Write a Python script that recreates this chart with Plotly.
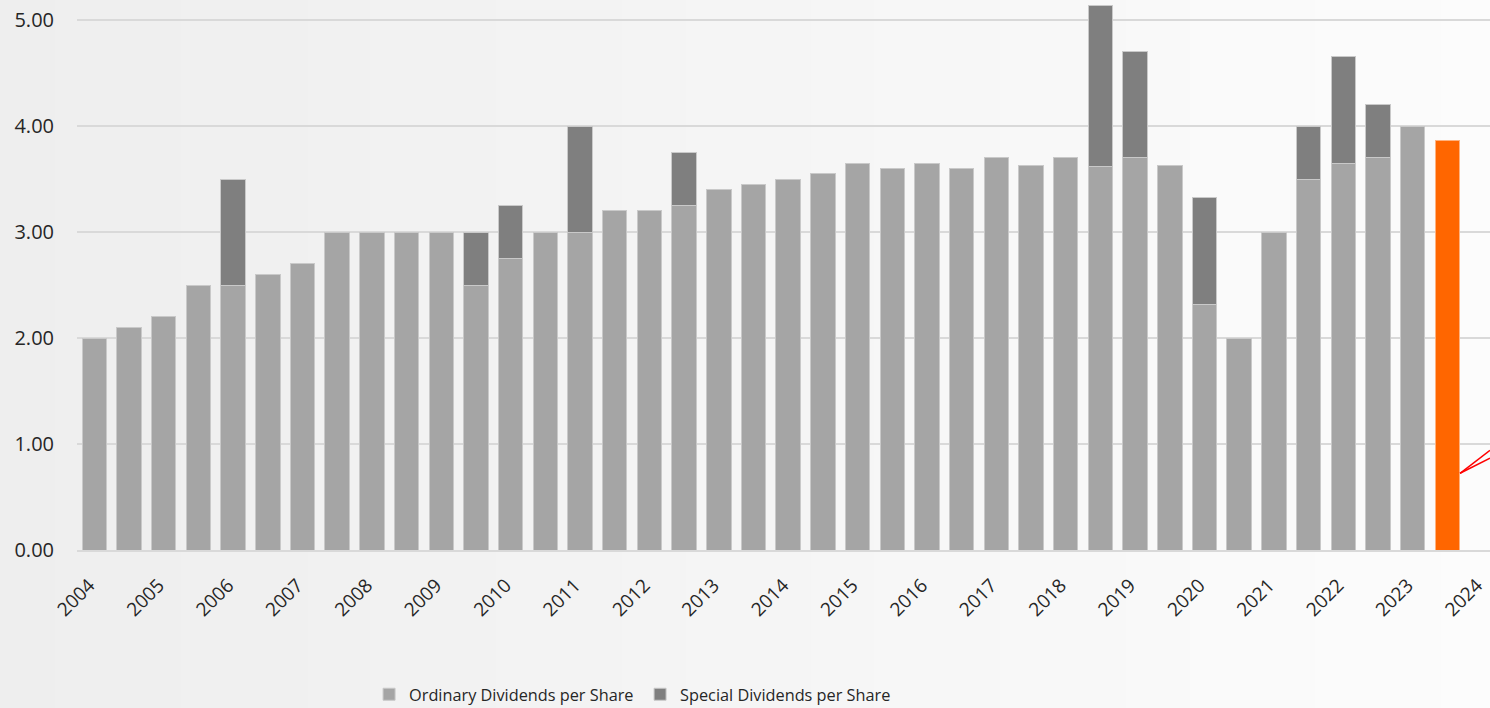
import plotly.graph_objects as go

# ---- data ----
years = ["2004", "2005", "2006", "2007", "2008", "2009", "2010", "2011", "2012", "2013",
         "2014", "2015", "2016", "2017", "2018", "2019", "2020", "2021", "2022", "2023", "2024"]

periods = [f"{y} H{h}" for y in years for h in (1, 2)][:41]

ordinary = [2.00, 2.10, 2.20, 2.50, 2.50, 2.60, 2.70, 3.00, 3.00, 3.00,
            3.00, 2.50, 2.75, 3.00, 3.00, 3.20, 3.20, 3.25, 3.40, 3.45,
            3.50, 3.55, 3.65, 3.60, 3.65, 3.60, 3.70, 3.63, 3.70, 3.62,
            3.70, 3.63, 2.32, 2.00, 3.00, 3.50, 3.65, 3.70, 4.00, 3.86]

special = [0, 0, 0, 0, 1.00, 0, 0, 0, 0, 0,
           0, 0.50, 0.50, 0, 1.00, 0, 0, 0.50, 0, 0,
           0, 0, 0, 0, 0, 0, 0, 0, 0, 1.52,
           1.00, 0, 1.01, 0, 0, 0.50, 1.01, 0.50, 0, 0]

forecast_flag = [False] * 39 + [True]

C_ORD = "#a5a5a5"
C_SPE = "#7f7f7f"
C_FC = "#ff6600"

ord_colors = [C_FC if f else C_ORD for f in forecast_flag]
ord_lines = ["#ffb27f" if f else "#c9c9c9" for f in forecast_flag]

fig = go.Figure()
fig.add_trace(go.Bar(
    x=periods[:40], y=ordinary, name="Ordinary Dividends per Share",
    marker=dict(color=ord_colors, line=dict(color=ord_lines, width=1)),
))
fig.add_trace(go.Bar(
    x=periods[:40], y=[s if s > 0 else None for s in special], name="Special Dividends per Share",
    marker=dict(color=C_SPE, line=dict(color="#c9c9c9", width=1)),
))

# background gradient (light grey on the left, near white on the right)
n = 24
for i in range(n):
    t = i / (n - 1)
    v = int(round(238 + (252 - 238) * t))
    fig.add_shape(type="rect", xref="paper", yref="paper",
                  x0=-0.06 + i * (1.07 / n), x1=-0.06 + (i + 1) * (1.07 / n) + 0.002,
                  y0=-0.3, y1=1.0, fillcolor=f"rgb({v},{v},{v})",
                  line=dict(width=0), layer="below")

# red pointer lines next to the forecast bar
for yend in (0.94, 0.866):
    fig.add_shape(type="line", xref="paper", yref="y",
                  x0=0.9788, y0=0.724, x1=1.0, y1=yend,
                  line=dict(color="#ff0000", width=1.5))

FONT = "Open Sans"

fig.update_layout(
    width=1490, height=708,
    margin=dict(l=77, r=0, t=0, b=158, autoexpand=False),
    barmode="stack", bargap=0.294,
    paper_bgcolor="#f2f2f2", plot_bgcolor="rgba(0,0,0,0)",
    font=dict(family=FONT, size=20, color="#262626"),
    showlegend=True,
    legend=dict(orientation="h", x=0.2067, xanchor="left",
                y=-0.263, yanchor="middle",
                font=dict(size=16.3, color="#262626"), bgcolor="rgba(0,0,0,0)",
                traceorder="normal", entrywidth=226, entrywidthmode="pixels"),
    xaxis=dict(
        type="category", categoryorder="array", categoryarray=periods,
        range=[-0.5, 40.23], automargin=False,
        tickmode="array", tickvals=periods[0::2], ticktext=years,
        tickangle=-45, showgrid=False, ticks="",
        tickfont=dict(size=19),
        showline=True, linecolor="#d9d9d9", linewidth=1.5,
        ticklabelstandoff=15, ticklabelshift=-5,
    ),
    yaxis=dict(
        range=[0, 5.19], tickvals=[0, 1, 2, 3, 4, 5], tickformat=".2f",
        automargin=False,
        showgrid=True, gridcolor="#d9d9d9", gridwidth=1.5,
        zeroline=False, ticks="", ticklabelstandoff=22,
        showline=False,
    ),
)

fig.write_html("out.html", config={"displayModeBar": False},
               post_script="document.body.style.margin='0';")
